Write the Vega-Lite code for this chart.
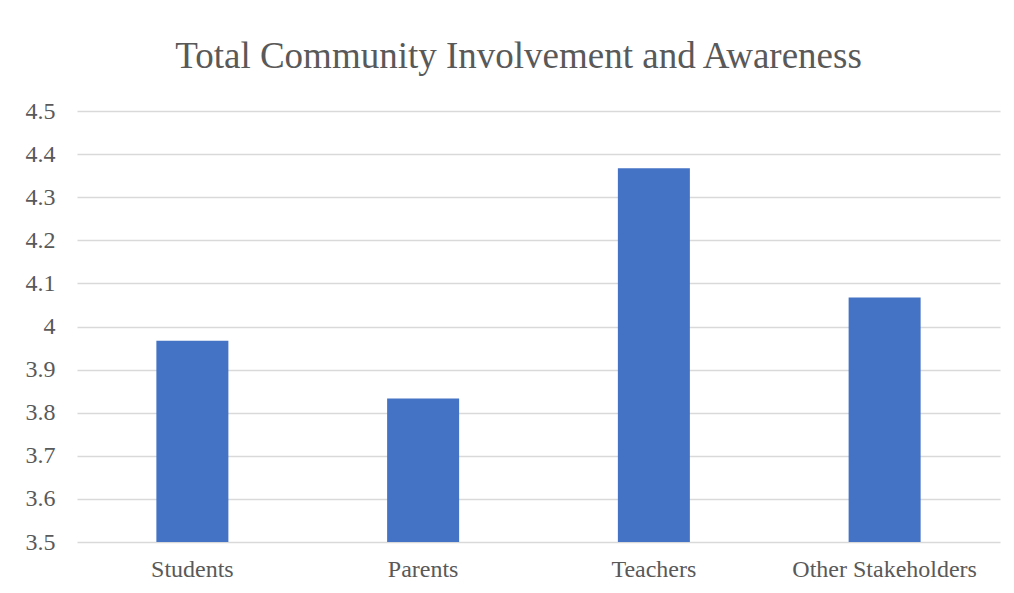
{
  "$schema": "https://vega.github.io/schema/vega-lite/v6.json",
  "width": 923,
  "height": 431,
  "autosize": {"type": "none"},
  "padding": {"left": 77, "top": 111, "right": 14, "bottom": 51},
  "background": "white",
  "title": {
    "text": "Total Community Involvement and Awareness",
    "font": "Liberation Serif",
    "fontSize": 37,
    "fontWeight": "normal",
    "color": "#595959",
    "anchor": "middle",
    "dx": -20,
    "offset": 23
  },
  "data": {
    "values": [
      {"group": "Students", "score": 3.967},
      {"group": "Parents", "score": 3.833},
      {"group": "Teachers", "score": 4.367},
      {"group": "Other Stakeholders", "score": 4.067}
    ]
  },
  "mark": {"type": "bar", "color": "#4472C4", "clip": true},
  "encoding": {
    "x": {
      "field": "group",
      "type": "nominal",
      "sort": null,
      "title": null,
      "scale": {"paddingInner": 0.688, "paddingOuter": 0.344},
      "axis": {
        "labelAngle": 0,
        "labelFont": "Liberation Serif",
        "labelFontSize": 24,
        "labelColor": "#595959",
        "labelPadding": 15,
        "labelLimit": 0,
        "labelOverlap": false,
        "ticks": false,
        "domain": false,
        "grid": false
      }
    },
    "y": {
      "field": "score",
      "type": "quantitative",
      "title": null,
      "scale": {"domain": [3.5, 4.5], "nice": false, "zero": false},
      "axis": {
        "values": [3.5, 3.6, 3.7, 3.8, 3.9, 4.0, 4.1, 4.2, 4.3, 4.4, 4.5],
        "format": "~g",
        "labelFont": "Liberation Serif",
        "labelFontSize": 24,
        "labelColor": "#595959",
        "labelPadding": 22,
        "ticks": false,
        "domain": false,
        "grid": true,
        "gridColor": "#D9D9D9",
        "gridWidth": 1.5
      }
    }
  },
  "config": {"view": {"stroke": null}}
}
